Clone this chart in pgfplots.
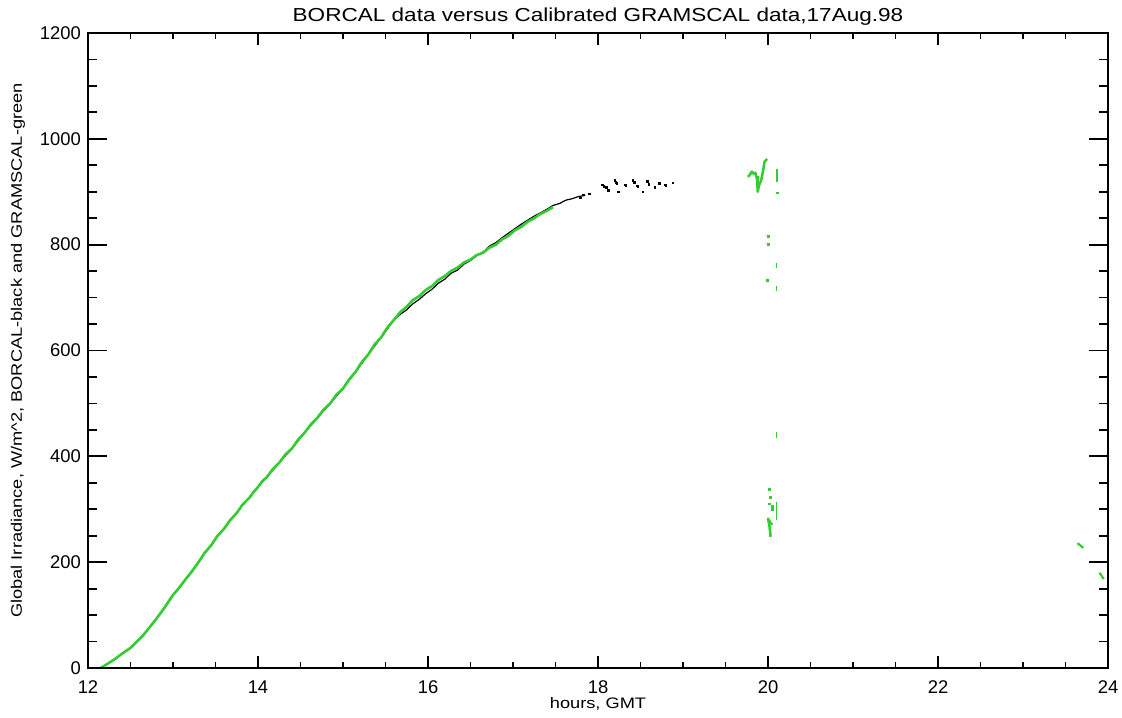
\documentclass[border=0pt]{standalone}
\usepackage{fontspec}
\setmainfont{Liberation Sans}
\newfontfamily\hershey[FakeStretch=1.2]{Liberation Sans}
\usepackage{pgfplots}
\pgfplotsset{compat=1.18}
\definecolor{gramgreen}{RGB}{51,204,51}
\begin{document}
\begin{tikzpicture}
\pgfplotsset{
  common/.style={
    at={(0,0)}, anchor=south west,
    scale only axis, width=510pt, height=317.5pt,
    xmin=12, xmax=24, ymin=0, ymax=1200,
    tick align=inside,
    axis line style={line width=1pt},
    every tick/.style={line width=0.9pt, black},
    /pgf/number format/assume math mode=true,
    /pgf/number format/1000 sep={},
  }
}
\begin{axis}[common,
  xtick={12,14,...,24}, minor x tick num=3,
  ytick=\empty,
  major tick length=6pt, minor tick length=3pt,
  xticklabel style={font=\fontsize{9.2}{10}\selectfont, yshift=-3pt},
  every axis title shift=0pt,
  title={BORCAL data versus Calibrated GRAMSCAL data,17Aug.98},
  title style={font=\hershey\fontsize{9.4}{10}\selectfont, at={(axis description cs:0.5,1.0252)}, anchor=center},
  xlabel={hours, GMT},
  xlabel style={font=\hershey\fontsize{7.6}{9}\selectfont, at={(axis description cs:0.5,-0.0565)}, anchor=center},
  ylabel={Global Irradiance, W/m\^{}2, BORCAL-black and GRAMSCAL-green},
  ylabel style={font=\hershey\fontsize{7.6}{9}\selectfont, at={(axis description cs:-0.0686,0.5)}, anchor=center},
]
% BORCAL (black)
\addplot[black, line width=0.6pt] coordinates {
(12.15,0) (12.22,7) (12.3,15) (12.4,27) (12.5,38) (12.57,49) (12.65,62) (12.72,76) (12.8,92) (12.9,114)
(13.0,138) (13.07,151) (13.15,168) (13.22,182) (13.3,200) (13.37,217) (13.45,232) (13.52,249) (13.6,263)
(13.67,279) (13.75,293) (13.82,309) (13.9,322) (14.0,342) (14.1,360) (14.25,388) (14.4,415) (14.55,445)
(14.7,473) (14.85,500) (15.0,528) (15.15,560) (15.3,593) (15.45,625) (15.6,658)
(15.67,668) (15.75,677) (15.82,688) (15.9,697) (15.97,707) (16.05,716) (16.12,727) (16.2,735) (16.27,746)
(16.35,752) (16.42,763) (16.5,770) (16.57,779) (16.65,786) (16.72,797) (16.8,804) (16.87,813) (16.95,822)
(17.02,830) (17.1,839) (17.17,846) (17.25,854) (17.32,860) (17.4,867) (17.47,874) (17.55,878) (17.62,884)
(17.7,887) (17.77,891) (17.85,893)
};
\addplot[only marks, mark=square*, mark size=0.4pt, black] coordinates {
(17.79,888) (17.83,894) (17.9,896) (18.05,913) (18.07,910) (18.1,908) (18.12,902) (18.2,922) (18.21,918) (18.22,916) (18.24,900)
(18.32,913) (18.33,911) (18.41,922) (18.43,918) (18.46,911) (18.47,909) (18.53,900) (18.58,919) (18.6,914) (18.67,908)
(18.72,916) (18.79,913) (18.8,911) (18.88,917)
};
% GRAMSCAL (green)
\addplot[gramgreen, line width=1.3pt, line join=round] coordinates {
(12.15,0) (12.22,7) (12.3,15) (12.4,27) (12.5,38) (12.57,49) (12.65,62) (12.72,76) (12.8,92) (12.9,114)
(13.0,138) (13.07,151) (13.15,168) (13.22,182) (13.3,200) (13.37,217) (13.45,232) (13.52,249) (13.6,263)
(13.67,279) (13.75,293) (13.82,309) (13.9,322) (13.95,333) (14.0,342) (14.05,353) (14.1,360) (14.17,375)
(14.25,388) (14.32,403) (14.4,415) (14.47,431) (14.55,445) (14.62,460) (14.7,473) (14.77,488) (14.85,500)
(14.92,516) (15.0,528) (15.07,545) (15.15,560) (15.22,578) (15.3,593) (15.37,611) (15.45,625) (15.52,643)
(15.6,658) (15.67,672) (15.75,683) (15.82,695) (15.9,703) (15.97,714) (16.05,722) (16.12,733) (16.2,741)
(16.27,750) (16.35,757) (16.42,766) (16.5,772) (16.57,780) (16.65,785) (16.72,794) (16.8,800) (16.87,810)
(16.95,817) (17.02,827) (17.1,834) (17.17,843) (17.25,850) (17.32,858) (17.4,864) (17.47,871)
};
\addplot[gramgreen, line width=1.3pt, line join=round] coordinates {
(19.765,928) (19.79,933) (19.81,938) (19.83,934) (19.85,936) (19.87,925) (19.88,900) (19.89,910)
(19.92,922) (19.94,938) (19.96,957) (19.99,962)
};
\addplot[gramgreen, line width=1pt] coordinates {(19.88,900) (19.88,930)};
\addplot[gramgreen, line width=0.8pt] coordinates {(20.106,919) (20.106,943)};
\addplot[gramgreen, line width=0.8pt] coordinates {(20.1,755) (20.1,765)};
\addplot[gramgreen, line width=0.8pt] coordinates {(20.1,712) (20.1,722)};
\addplot[gramgreen, line width=0.8pt] coordinates {(20.1,435) (20.1,446)};
\addplot[gramgreen, line width=0.8pt] coordinates {(20.1,280) (20.1,314)};
\addplot[gramgreen, line width=1.3pt] coordinates {(20.0,284) (20.02,265) (20.03,248)};
\addplot[gramgreen, line width=1.1pt] coordinates {(20.01,280) (20.05,270)};
\addplot[only marks, mark=square*, mark size=0.45pt, gramgreen] coordinates {
(20.106,898) (20.0,815) (20.0,801) (19.99,733) (20.02,338) (20.03,323) (20.02,310) (20.05,306) (20.05,299)
};
\addplot[gramgreen, line width=1.1pt] coordinates {(23.64,236) (23.71,227)};
\addplot[gramgreen, line width=1.1pt] coordinates {(23.9,180) (23.95,168)};
\end{axis}
\begin{axis}[common,
  xtick=\empty,
  ytick={0,200,...,1200}, minor y tick num=3,
  major tick length=9.5pt, minor tick length=4.5pt,
  yticklabel style={font=\fontsize{9.2}{10}\selectfont},
]
\end{axis}
\pgfresetboundingbox
\path[use as bounding box] (-44pt,-24.5pt) rectangle (517pt,334pt);
\end{tikzpicture}
\end{document}
